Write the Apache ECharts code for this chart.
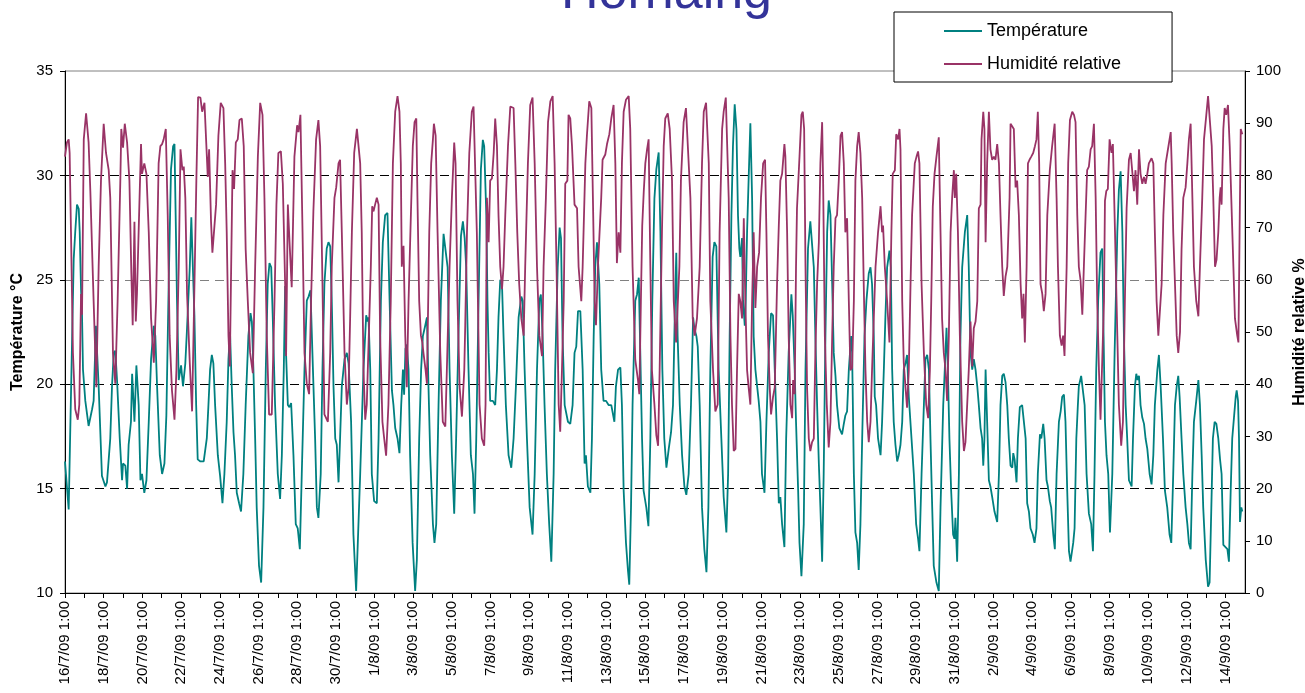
<!DOCTYPE html>
<html>
<head>
<meta charset="utf-8">
<title>Hornaing</title>
<script src="https://cdn.jsdelivr.net/npm/echarts@6/dist/echarts.min.js"></script>
<style>
html, body { margin: 0; padding: 0; background: #fff; }
#main { width: 1305px; height: 693px; }
</style>
</head>
<body>
<div id="main"></div>
<script>
// x = days since 16/7/09 1:00
var startDate = [2009, 6, 16];
var dayCount = 61;
var leftTicks = [10, 35, 5];
var rightTicks = [0, 100, 10];
var seriesNames = ['Température', 'Humidité relative'];

var tempPoints = [
[0.00,16.3],[0.19,14.0],[0.45,26.0],[0.53,27.3],[0.62,28.6],[0.71,28.4],[0.76,27.3],[0.83,24.5],[0.88,23.3],[0.93,20.7],
[1.05,19.2],[1.22,18.0],[1.40,18.8],[1.48,19.2],[1.60,22.8],[1.66,21.5],[1.74,19.9],[1.91,15.6],[2.09,15.1],[2.17,15.3],
[2.34,17.4],[2.43,19.9],[2.52,21.5],[2.60,21.6],[2.69,20.2],[2.83,17.4],[2.95,15.4],[3.00,16.2],[3.12,16.1],[3.21,15.0],
[3.29,17.1],[3.41,18.2],[3.47,20.5],[3.59,18.2],[3.69,20.9],[3.81,19.0],[3.90,15.4],[3.98,15.7],[4.10,14.8],[4.21,15.4],
[4.33,18.2],[4.45,21.2],[4.59,22.8],[4.67,22.3],[4.76,19.9],[4.90,16.6],[5.02,15.7],[5.14,16.2],[5.24,18.5],[5.36,24.8],
[5.48,30.3],[5.59,31.4],[5.66,31.5],[5.72,28.1],[5.79,24.0],[5.88,20.2],[6.00,20.9],[6.10,19.9],[6.22,21.0],[6.31,22.7],
[6.45,25.6],[6.53,28.0],[6.62,25.3],[6.69,23.3],[6.78,19.0],[6.86,16.4],[7.00,16.3],[7.17,16.3],[7.24,16.3],[7.33,17.4],
[7.41,18.9],[7.50,20.7],[7.59,21.4],[7.67,21.0],[7.76,19.0],[7.90,16.6],[8.02,15.6],[8.14,14.3],[8.24,15.7],[8.36,18.2],
[8.45,21.2],[8.53,22.5],[8.62,19.9],[8.71,17.7],[8.79,16.6],[8.88,14.8],[9.00,14.3],[9.10,13.9],[9.22,15.7],[9.34,19.0],
[9.48,22.3],[9.59,23.4],[9.66,23.0],[9.74,20.7],[9.83,17.4],[9.91,14.1],[10.03,11.3],[10.14,10.5],[10.26,14.1],[10.38,20.7],
[10.48,24.8],[10.57,25.8],[10.66,25.6],[10.74,23.2],[10.86,19.0],[11.00,15.7],[11.12,14.5],[11.21,16.6],[11.31,20.7],[11.38,24.7],
[11.43,21.4],[11.52,19.0],[11.60,18.9],[11.69,19.1],[11.81,16.6],[11.93,13.3],[12.03,13.1],[12.14,12.1],[12.24,15.7],[12.38,20.7],
[12.50,24.0],[12.59,24.2],[12.69,24.5],[12.79,21.5],[12.93,17.4],[13.02,14.1],[13.10,13.6],[13.22,15.7],[13.31,20.7],[13.41,24.8],
[13.53,26.5],[13.62,26.8],[13.71,26.6],[13.79,24.0],[13.88,19.9],[13.97,17.4],[14.05,17.1],[14.14,15.3],[14.22,17.4],[14.31,19.9],
[14.45,21.2],[14.57,21.5],[14.66,21.0],[14.79,18.2],[14.91,12.8],[15.05,10.1],[15.26,15.7],[15.43,20.7],[15.57,23.3],[15.64,23.0],
[15.69,23.2],[15.78,20.7],[15.86,15.7],[15.98,14.4],[16.12,14.3],[16.21,17.4],[16.33,24.0],[16.43,26.8],[16.55,28.1],[16.67,28.2],
[16.78,24.0],[16.90,19.7],[16.98,19.0],[17.07,17.9],[17.19,17.4],[17.29,16.7],[17.38,19.0],[17.47,20.7],[17.53,19.5],[17.60,21.7],
[17.67,21.9],[17.76,20.7],[17.84,16.6],[17.97,12.4],[18.10,10.1],[18.19,11.6],[18.31,17.4],[18.41,20.7],[18.50,22.3],[18.62,22.8],
[18.71,23.2],[18.79,19.9],[18.88,16.6],[19.02,13.3],[19.10,12.4],[19.19,13.3],[19.31,19.0],[19.43,24.0],[19.57,27.2],[19.67,27.2],
[19.78,25.6],[19.88,20.7],[20.00,16.6],[20.12,13.8],[20.22,17.4],[20.34,22.3],[20.47,27.1],[20.57,27.8],[20.66,27.0],[20.74,25.6],
[20.86,20.7],[20.98,16.6],[21.09,15.7],[21.17,13.8],[21.26,17.4],[21.38,24.0],[21.50,30.3],[21.60,31.7],[21.67,31.4],[21.78,28.1],
[21.84,24.0],[21.90,21.5],[21.98,19.2],[22.12,19.2],[22.24,19.0],[22.33,20.7],[22.41,23.2],[22.50,25.0],[22.59,24.8],[22.67,22.3],
[22.79,19.0],[22.93,16.6],[23.07,16.0],[23.19,17.4],[23.31,19.9],[23.45,23.2],[23.59,24.2],[23.66,24.0],[23.76,20.7],[23.88,17.4],
[24.02,14.1],[24.17,12.8],[24.28,15.7],[24.40,20.7],[24.52,24.0],[24.60,24.3],[24.69,22.3],[24.79,19.0],[24.91,15.7],[25.03,13.3],
[25.14,11.5],[25.26,15.7],[25.34,20.7],[25.47,25.6],[25.57,27.5],[25.64,27.0],[25.72,22.3],[25.83,19.0],[25.91,19.0],[26.00,18.2],
[26.12,18.1],[26.24,19.0],[26.34,21.5],[26.43,21.8],[26.52,23.5],[26.64,23.5],[26.76,20.7],[26.86,16.2],[26.93,16.6],[27.03,15.1],
[27.16,14.8],[27.24,17.4],[27.33,22.3],[27.41,25.6],[27.50,26.8],[27.62,24.8],[27.72,20.7],[27.84,19.2],[27.97,19.2],[28.10,19.0],
[28.24,19.0],[28.31,19.0],[28.40,18.2],[28.48,19.9],[28.59,20.7],[28.71,20.8],[28.79,19.0],[28.88,14.9],[29.00,12.4],[29.10,11.1],
[29.17,10.4],[29.26,14.1],[29.34,19.0],[29.48,24.0],[29.57,24.3],[29.66,25.1],[29.74,21.5],[29.83,17.4],[29.91,14.9],[30.05,14.1],
[30.16,13.2],[30.26,17.4],[30.36,24.0],[30.47,28.9],[30.57,30.3],[30.69,31.1],[30.78,27.3],[30.88,20.7],[30.98,17.4],[31.09,16.0],
[31.21,16.9],[31.33,17.7],[31.43,19.0],[31.52,23.2],[31.60,26.3],[31.67,22.3],[31.78,19.0],[31.90,16.6],[32.02,15.1],[32.12,14.7],
[32.24,15.7],[32.36,19.0],[32.47,23.2],[32.53,22.7],[32.64,22.3],[32.71,21.8],[32.81,19.0],[32.93,14.1],[33.05,12.1],[33.16,11.0],
[33.26,14.1],[33.36,20.7],[33.48,26.1],[33.57,26.8],[33.67,26.6],[33.79,20.7],[33.93,17.4],[34.05,14.6],[34.19,12.9],[34.28,15.7],
[34.36,22.3],[34.45,28.1],[34.53,31.4],[34.62,33.4],[34.71,32.2],[34.79,28.1],[34.86,26.5],[34.91,26.1],[35.00,27.0],[35.05,24.0],
[35.14,22.8],[35.19,24.0],[35.26,27.3],[35.34,29.8],[35.43,32.5],[35.52,28.9],[35.60,22.3],[35.69,20.7],[35.78,19.9],[35.86,19.2],
[35.95,18.2],[36.03,15.7],[36.16,14.8],[36.26,18.2],[36.38,21.5],[36.50,23.4],[36.60,23.3],[36.69,20.7],[36.81,17.4],[36.90,14.3],
[36.98,14.6],[37.07,13.3],[37.19,12.2],[37.28,17.4],[37.41,21.5],[37.55,24.3],[37.62,23.3],[37.72,20.7],[37.79,18.2],[37.90,14.9],
[37.97,12.4],[38.07,10.8],[38.19,13.3],[38.28,20.7],[38.41,26.5],[38.53,27.8],[38.62,27.8],[38.71,25.6],[38.79,22.3],[38.88,19.0],
[38.97,16.2],[39.05,14.1],[39.14,11.5],[39.22,15.7],[39.31,22.3],[39.40,27.3],[39.48,28.8],[39.57,28.1],[39.66,24.8],[39.74,21.5],
[39.83,20.4],[39.91,19.0],[40.03,17.9],[40.17,17.6],[40.26,18.1],[40.34,18.5],[40.43,18.7],[40.52,20.7],[40.64,22.3],[40.69,21.5],
[40.78,15.7],[40.86,12.9],[40.95,12.4],[41.03,11.1],[41.12,13.3],[41.21,17.4],[41.33,22.3],[41.43,24.0],[41.55,25.3],[41.64,25.6],
[41.72,24.8],[41.81,22.3],[41.86,19.4],[41.93,19.0],[42.03,17.4],[42.16,16.6],[42.24,18.2],[42.33,20.7],[42.41,23.2],[42.50,25.6],
[42.62,26.4],[42.69,25.6],[42.76,20.7],[42.84,18.2],[42.93,17.1],[43.02,16.3],[43.10,16.6],[43.19,17.1],[43.28,18.2],[43.36,20.7],
[43.45,21.0],[43.53,21.4],[43.62,19.4],[43.76,17.4],[43.88,15.7],[44.00,13.3],[44.10,12.6],[44.17,12.0],[44.28,15.7],[44.40,19.0],
[44.48,21.2],[44.57,21.4],[44.66,20.7],[44.74,17.4],[44.83,14.1],[44.91,11.3],[45.05,10.5],[45.17,10.1],[45.26,14.1],[45.40,19.0],
[45.48,20.7],[45.57,22.7],[45.64,20.7],[45.72,17.4],[45.81,14.9],[45.91,12.8],[45.98,12.6],[46.03,13.6],[46.12,11.5],[46.21,15.7],
[46.29,22.3],[46.38,25.6],[46.52,27.3],[46.64,28.1],[46.72,25.6],[46.81,21.5],[46.90,20.7],[46.98,21.2],[47.07,20.7],[47.16,19.9],
[47.24,19.0],[47.33,17.9],[47.41,17.4],[47.47,16.1],[47.53,17.4],[47.59,20.7],[47.67,18.2],[47.76,15.4],[47.84,15.1],[47.93,14.6],
[48.05,13.9],[48.19,13.4],[48.28,15.7],[48.36,19.0],[48.45,20.4],[48.53,20.5],[48.62,20.1],[48.71,19.0],[48.79,17.4],[48.88,16.1],
[48.97,16.0],[49.02,16.7],[49.09,16.4],[49.19,15.3],[49.26,17.4],[49.36,18.9],[49.48,19.0],[49.57,19.0],[49.66,17.4],[49.74,14.3],
[49.83,13.9],[49.91,13.1],[50.03,12.8],[50.12,12.4],[50.22,13.1],[50.29,15.7],[50.40,17.6],[50.47,17.4],[50.57,18.1],[50.64,17.4],
[50.74,15.4],[50.81,15.1],[50.91,14.4],[50.98,14.1],[51.09,12.8],[51.17,12.1],[51.26,15.7],[51.38,18.2],[51.47,18.7],[51.55,19.4],
[51.64,19.5],[51.72,18.2],[51.81,14.9],[51.90,12.0],[51.98,11.5],[52.12,12.4],[52.19,13.1],[52.28,17.4],[52.36,19.0],[52.41,19.9],
[52.53,20.4],[52.62,20.4],[52.71,19.0],[52.81,15.7],[52.93,13.8],[53.05,13.3],[53.14,12.0],[53.22,15.7],[53.31,20.7],[53.41,24.0],
[53.53,26.3],[53.62,26.5],[53.69,22.3],[53.76,18.2],[53.84,16.6],[53.93,15.7],[54.02,12.9],[54.14,15.7],[54.26,21.5],[54.40,27.3],
[54.48,29.3],[54.57,30.2],[54.66,27.3],[54.74,22.3],[54.83,19.0],[54.91,17.4],[55.00,15.4],[55.14,15.1],[55.21,17.4],[55.31,19.9],
[55.38,20.5],[55.45,20.2],[55.52,20.4],[55.60,19.0],[55.69,18.4],[55.78,18.1],[55.86,17.4],[55.95,16.9],[56.07,15.7],[56.17,15.2],
[56.26,16.6],[56.34,19.0],[56.47,20.7],[56.55,21.4],[56.64,19.9],[56.76,17.4],[56.86,14.9],[56.98,14.1],[57.10,12.8],[57.19,12.4],
[57.29,15.7],[57.38,19.0],[57.47,19.9],[57.55,20.4],[57.62,19.4],[57.72,17.4],[57.81,15.7],[57.93,14.1],[58.02,13.3],[58.10,12.4],
[58.19,12.1],[58.28,15.7],[58.36,18.2],[58.48,19.2],[58.59,20.2],[58.67,19.0],[58.76,16.6],[58.84,14.1],[58.97,11.6],[59.09,10.3],
[59.17,10.5],[59.26,14.1],[59.34,17.4],[59.43,18.2],[59.52,18.1],[59.62,17.4],[59.71,16.4],[59.79,15.7],[59.88,12.3],[59.97,12.3],
[60.09,12.1],[60.17,11.5],[60.26,14.9],[60.34,17.4],[60.43,18.4],[60.52,19.4],[60.57,19.7],[60.64,19.2],[60.69,17.4],[60.74,13.4],
[60.81,14.1],[60.86,13.9]
];

var humPoints = [
[0.00,83.6],[0.10,86.3],[0.19,86.9],[0.24,84.3],[0.31,69.1],[0.41,46.0],[0.53,35.2],[0.66,33.2],[0.74,36.1],[0.83,57.3],
[0.88,53.3],[0.97,86.9],[1.09,91.9],[1.22,86.3],[1.31,77.0],[1.48,55.9],[1.62,39.4],[1.74,62.5],[1.86,79.0],[2.00,89.9],
[2.12,84.3],[2.26,81.0],[2.34,75.7],[2.48,46.0],[2.60,40.1],[2.72,55.9],[2.86,79.0],[2.91,88.9],[3.00,85.3],[3.09,89.9],
[3.21,86.3],[3.33,79.0],[3.43,61.2],[3.50,51.3],[3.59,71.1],[3.66,52.0],[3.72,57.3],[3.83,72.4],[3.93,86.0],[3.98,80.3],
[4.10,82.3],[4.21,80.3],[4.33,69.1],[4.45,52.6],[4.59,44.1],[4.71,55.9],[4.84,82.3],[4.93,85.6],[5.02,86.0],[5.10,86.9],
[5.21,88.9],[5.31,72.4],[5.41,49.3],[5.53,38.8],[5.66,33.2],[5.76,42.7],[5.88,62.5],[5.97,85.0],[6.07,81.0],[6.14,81.7],
[6.22,75.7],[6.31,57.3],[6.45,44.1],[6.57,34.8],[6.66,52.6],[6.79,79.0],[6.88,95.0],[7.00,94.9],[7.09,92.2],[7.21,93.9],
[7.28,94.2],[7.38,79.7],[7.45,85.0],[7.55,71.1],[7.62,65.2],[7.72,65.5],[7.81,74.4],[7.93,87.6],[8.05,93.9],[8.19,92.9],
[8.28,82.3],[8.36,69.1],[8.45,49.3],[8.52,43.4],[8.59,62.5],[8.66,81.0],[8.74,77.4],[8.83,86.3],[8.93,86.9],[9.02,90.6],
[9.14,90.9],[9.24,85.6],[9.34,65.8],[9.45,55.9],[9.57,46.0],[9.71,42.1],[9.83,62.5],[9.97,83.6],[10.09,93.9],[10.21,91.6],
[10.31,75.7],[10.43,49.3],[10.55,34.2],[10.69,34.2],[10.83,55.9],[10.93,74.4],[11.03,84.3],[11.16,84.6],[11.26,78.4],[11.38,59.2],
[11.43,45.4],[11.52,74.4],[11.60,67.8],[11.72,58.6],[11.86,83.6],[12.00,89.6],[12.07,88.3],[12.17,91.6],[12.28,69.1],[12.38,46.0],
[12.50,40.1],[12.62,38.1],[12.72,55.9],[12.84,73.1],[12.98,86.9],[13.10,90.6],[13.19,85.6],[13.31,59.2],[13.41,34.2],[13.59,32.8],
[13.71,46.0],[13.79,62.5],[13.93,75.7],[14.02,77.7],[14.14,82.3],[14.22,83.0],[14.31,69.1],[14.45,46.0],[14.57,36.1],[14.66,39.4],
[14.74,52.6],[14.83,69.1],[14.95,84.3],[15.09,88.9],[15.17,88.9],[15.26,82.3],[15.34,69.1],[15.43,42.7],[15.52,33.2],[15.60,36.1],
[15.69,36.1],[15.81,62.5],[15.88,74.1],[15.95,73.1],[16.03,74.4],[16.12,75.7],[16.21,74.4],[16.29,49.3],[16.41,32.8],[16.50,29.6],
[16.60,26.3],[16.72,36.1],[16.84,55.9],[16.95,82.3],[17.07,92.2],[17.19,95.2],[17.29,92.2],[17.36,82.3],[17.41,62.5],[17.50,66.5],
[17.59,49.3],[17.67,39.4],[17.76,55.9],[17.88,72.4],[17.98,85.6],[18.07,90.2],[18.16,90.9],[18.22,75.7],[18.31,55.9],[18.40,49.3],
[18.47,48.0],[18.53,46.0],[18.64,42.7],[18.71,40.1],[18.83,69.1],[18.93,82.3],[19.02,86.9],[19.07,89.9],[19.16,87.6],[19.26,69.1],
[19.40,46.0],[19.53,32.8],[19.66,31.9],[19.74,42.7],[19.88,62.5],[20.00,75.7],[20.12,86.3],[20.19,82.3],[20.29,55.9],[20.40,39.4],
[20.52,33.8],[20.64,42.7],[20.69,51.3],[20.78,69.1],[20.90,84.3],[21.03,92.2],[21.12,93.2],[21.21,92.9],[21.29,69.1],[21.43,36.1],
[21.55,29.6],[21.67,28.2],[21.74,36.1],[21.81,75.7],[21.90,67.2],[21.98,79.0],[22.07,79.4],[22.16,84.3],[22.24,90.9],[22.33,85.6],
[22.41,72.4],[22.50,62.5],[22.59,58.2],[22.67,62.5],[22.76,72.4],[22.90,85.6],[23.02,93.2],[23.19,92.9],[23.28,82.3],[23.38,69.1],
[23.48,59.2],[23.59,52.6],[23.71,49.3],[23.79,62.5],[23.93,82.3],[24.05,93.5],[24.17,94.9],[24.28,82.3],[24.40,62.5],[24.52,49.3],
[24.66,45.4],[24.74,62.5],[24.86,75.7],[24.97,90.2],[25.09,94.2],[25.21,95.2],[25.31,82.3],[25.41,62.5],[25.52,36.1],[25.60,30.9],
[25.69,42.7],[25.78,55.9],[25.86,78.4],[25.97,79.0],[26.03,91.6],[26.12,90.9],[26.21,85.6],[26.34,74.4],[26.47,73.7],[26.55,62.5],
[26.69,55.9],[26.76,62.5],[26.90,82.3],[26.98,87.6],[27.10,94.2],[27.21,92.9],[27.29,75.7],[27.38,55.9],[27.45,51.3],[27.55,62.5],
[27.72,75.7],[27.79,83.0],[27.93,84.0],[28.02,86.0],[28.14,87.9],[28.24,90.9],[28.36,93.5],[28.45,82.3],[28.53,63.2],[28.62,69.1],
[28.71,65.2],[28.79,82.3],[28.88,92.2],[29.00,94.5],[29.14,95.2],[29.22,88.9],[29.34,62.5],[29.48,44.7],[29.62,40.8],[29.69,38.1],
[29.77,55.9],[29.84,70.4],[29.92,77.0],[30.00,82.3],[30.09,85.0],[30.17,86.9],[30.26,62.5],[30.34,42.7],[30.47,36.1],[30.57,30.2],
[30.66,28.2],[30.74,42.7],[30.86,69.1],[30.95,85.6],[31.03,90.9],[31.16,91.9],[31.26,88.9],[31.38,79.0],[31.47,55.9],[31.59,48.0],
[31.67,48.0],[31.76,62.5],[31.84,79.0],[31.98,90.2],[32.10,92.9],[32.19,92.9],[32.33,75.7],[32.45,52.6],[32.55,49.3],[32.67,52.6],
[32.81,62.5],[32.93,82.3],[33.02,92.2],[33.14,93.9],[33.19,93.9],[33.28,82.3],[33.36,55.9],[33.50,42.7],[33.62,34.8],[33.74,36.1],
[33.84,69.1],[33.97,88.9],[34.05,92.2],[34.16,94.9],[34.22,95.2],[34.31,75.7],[34.40,49.3],[34.48,36.1],[34.57,27.2],[34.66,27.6],
[34.74,42.7],[34.83,57.3],[34.91,55.9],[35.00,52.6],[35.09,71.8],[35.17,55.9],[35.26,42.7],[35.34,39.4],[35.43,36.1],[35.52,55.9],
[35.60,69.1],[35.69,54.6],[35.78,62.5],[35.88,65.2],[35.98,75.7],[36.09,82.3],[36.19,83.0],[36.26,69.1],[36.34,49.3],[36.43,39.4],
[36.50,34.2],[36.60,37.5],[36.69,39.4],[36.81,59.2],[36.90,70.4],[36.98,79.0],[37.07,80.3],[37.19,86.0],[37.24,83.6],[37.33,69.1],
[37.41,49.3],[37.50,36.1],[37.59,33.5],[37.64,40.8],[37.72,38.1],[37.79,62.5],[37.84,73.7],[37.90,73.7],[37.97,83.6],[38.07,91.6],
[38.14,92.2],[38.21,88.9],[38.28,62.5],[38.36,39.4],[38.45,29.6],[38.53,27.2],[38.62,28.9],[38.71,29.6],[38.79,46.0],[38.88,59.2],
[38.97,67.2],[39.05,82.3],[39.14,90.2],[39.19,79.0],[39.28,49.3],[39.38,36.1],[39.48,27.9],[39.57,32.8],[39.66,49.3],[39.74,62.5],
[39.83,71.8],[39.91,72.4],[40.00,79.0],[40.09,87.6],[40.17,88.3],[40.26,82.3],[40.34,69.1],[40.43,71.8],[40.52,55.9],[40.60,42.7],
[40.69,43.1],[40.78,55.9],[40.86,79.0],[40.95,85.6],[41.03,88.3],[41.12,84.3],[41.21,75.7],[41.29,59.2],[41.38,42.7],[41.47,32.8],
[41.55,28.9],[41.64,32.8],[41.72,42.7],[41.81,52.6],[41.90,62.5],[42.03,69.1],[42.16,74.1],[42.24,69.1],[42.29,70.4],[42.38,62.5],
[42.50,55.9],[42.62,48.0],[42.72,69.1],[42.79,80.3],[42.90,81.0],[42.97,87.9],[43.07,86.9],[43.14,88.9],[43.19,85.0],[43.28,55.9],
[43.36,44.1],[43.45,39.4],[43.53,35.5],[43.62,42.7],[43.71,59.2],[43.79,72.4],[43.93,82.3],[44.02,83.6],[44.10,84.6],[44.17,82.3],
[44.28,59.2],[44.40,46.0],[44.52,36.1],[44.62,33.5],[44.71,42.7],[44.78,55.9],[44.86,74.0],[44.95,80.3],[45.05,83.6],[45.17,87.3],
[45.26,69.1],[45.34,52.6],[45.43,46.0],[45.52,42.7],[45.60,36.8],[45.69,49.3],[45.78,69.1],[45.86,75.7],[45.95,81.0],[46.00,75.7],
[46.07,80.3],[46.16,69.1],[46.26,49.3],[46.38,32.8],[46.47,27.2],[46.55,28.9],[46.64,28.9],[46.72,42.7],[46.81,52.0],[46.90,43.4],
[46.98,50.7],[47.07,52.0],[47.16,55.9],[47.24,73.7],[47.33,74.4],[47.38,86.9],[47.47,92.2],[47.53,88.9],[47.59,67.2],[47.67,82.3],
[47.76,92.2],[47.84,85.0],[47.93,83.0],[48.02,83.6],[48.10,83.0],[48.19,86.0],[48.28,82.3],[48.36,72.4],[48.45,62.5],[48.53,56.9],
[48.62,60.6],[48.71,62.5],[48.83,75.7],[48.88,89.9],[48.97,89.9],[49.05,88.9],[49.14,77.7],[49.22,79.0],[49.31,72.4],[49.40,59.2],
[49.48,52.6],[49.55,57.3],[49.62,48.0],[49.71,62.5],[49.78,82.3],[49.86,83.0],[49.95,83.6],[50.05,84.3],[50.14,85.6],[50.22,86.9],
[50.29,92.2],[50.36,82.3],[50.43,59.2],[50.52,57.3],[50.60,54.0],[50.69,57.3],[50.78,72.4],[50.91,81.0],[51.03,85.6],[51.16,89.9],
[51.26,75.7],[51.33,62.5],[51.43,49.3],[51.52,47.4],[51.60,49.3],[51.67,45.4],[51.78,62.5],[51.86,82.3],[51.95,90.6],[52.07,92.2],
[52.16,91.6],[52.24,90.2],[52.33,72.4],[52.41,62.5],[52.50,59.9],[52.59,53.3],[52.67,62.5],[52.76,72.4],[52.84,81.0],[52.93,81.7],
[53.02,85.0],[53.10,85.6],[53.19,89.9],[53.28,75.7],[53.36,55.9],[53.45,42.7],[53.53,33.2],[53.62,33.2],[53.71,55.9],[53.76,75.1],
[53.83,77.0],[53.91,77.4],[54.00,86.9],[54.05,86.9],[54.10,84.3],[54.17,86.0],[54.28,69.1],[54.40,49.3],[54.48,36.1],[54.60,28.2],
[54.69,32.8],[54.79,55.9],[54.88,73.7],[55.00,83.0],[55.09,84.3],[55.17,84.0],[55.26,77.0],[55.34,81.0],[55.43,74.4],[55.52,85.0],
[55.60,80.3],[55.69,78.4],[55.78,79.7],[55.86,78.4],[55.95,80.3],[56.03,82.3],[56.17,83.3],[56.26,82.3],[56.34,69.1],[56.43,55.9],
[56.52,49.3],[56.60,49.3],[56.69,59.2],[56.78,72.4],[56.90,82.3],[57.03,85.3],[57.16,88.3],[57.21,82.3],[57.29,69.1],[57.38,59.2],
[57.47,49.3],[57.55,46.0],[57.64,50.0],[57.72,65.8],[57.81,75.7],[57.93,77.7],[58.02,82.3],[58.10,86.9],[58.19,89.9],[58.28,75.7],
[58.36,62.5],[58.48,55.9],[58.59,53.0],[58.67,62.5],[58.79,75.7],[58.88,86.9],[59.00,91.6],[59.09,95.2],[59.19,94.9],[59.28,85.6],
[59.36,75.7],[59.45,62.5],[59.53,63.9],[59.62,69.1],[59.69,75.7],[59.74,77.7],[59.79,74.4],[59.88,88.9],[59.95,92.9],[60.03,91.6],
[60.12,93.5],[60.21,85.6],[60.29,75.7],[60.40,62.5],[60.48,52.6],[60.60,49.3],[60.66,48.0],[60.72,69.1],[60.78,88.9],[60.86,87.9]
];

var dayLabel = function(v){
	var d = Math.round(v);
	if (d % 2 !== 0) return '';
	var dt = new Date(startDate[0], startDate[1], startDate[2] + d);
	return dt.getDate() + '/' + (dt.getMonth() + 1) + '/09 1:00';
};

var chart = echarts.init(document.getElementById('main'));
var font = 'Liberation Sans, Arial, sans-serif';

chart.setOption({
	backgroundColor: '#fff',
	animation: false,
	textStyle: { fontFamily: font, color: '#000' },
	title: {
		text: 'Hornaing',
		left: 556,
		top: -37,
		textStyle: { color: '#333399', fontSize: 52, fontWeight: 'normal', fontFamily: font }
	},
	legend: {
		orient: 'vertical',
		left: 894,
		top: 12,
		backgroundColor: '#fff',
		borderColor: '#000',
		borderWidth: 1,
		borderRadius: 0,
		padding: [10, 51, 9, 50],
		itemWidth: 38,
		itemHeight: 2,
		itemGap: 15,
		icon: 'rect',
		textStyle: { fontSize: 18, lineHeight: 18, color: '#000', fontFamily: font },
		data: seriesNames
	},
	grid: {
		left: 65, right: 60, top: 71, bottom: 100,
		outerBoundsMode: 'none',
		containLabel: false,
		show: true, borderColor: '#808080', borderWidth: 1
	},
	xAxis: {
		type: 'value',
		min: 0, max: dayCount, interval: 1,
		axisLine: { lineStyle: { color: '#000', width: 1 } },
		axisTick: { length: 5, lineStyle: { color: '#000' } },
		axisLabel: { rotate: 90, margin: 8, fontSize: 15, color: '#000', formatter: dayLabel, showMaxLabel: false },
		splitLine: { show: false }
	},
	yAxis: [{
		type: 'value',
		min: leftTicks[0], max: leftTicks[1], interval: leftTicks[2],
		name: 'Température °C',
		nameLocation: 'middle',
		nameRotate: 90,
		nameGap: 36,
		nameTextStyle: { fontSize: 16, fontWeight: 'bold', color: '#000' },
		axisLine: { show: true, lineStyle: { color: '#000' } },
		axisTick: { show: true, length: 5, lineStyle: { color: '#000' } },
		axisLabel: { fontSize: 15, margin: 12, color: '#000' },
		splitLine: { show: true, lineStyle: { type: [9, 6], width: 1,
			color: ['rgba(0,0,0,0)', '#000', '#000', '#808080', '#000', 'rgba(0,0,0,0)'] } }
	}, {
		type: 'value',
		position: 'right',
		min: rightTicks[0], max: rightTicks[1], interval: rightTicks[2],
		name: 'Humidité relative %',
		nameLocation: 'middle',
		nameRotate: 90,
		nameGap: 44,
		nameTextStyle: { fontSize: 16, fontWeight: 'bold', color: '#000' },
		axisLine: { show: true, lineStyle: { color: '#000' } },
		axisTick: { show: true, length: 5, lineStyle: { color: '#000' } },
		axisLabel: { fontSize: 15, margin: 11, color: '#000' },
		splitLine: { show: false }
	}],
	series: [{
		name: seriesNames[0],
		type: 'line',
		yAxisIndex: 0,
		data: tempPoints,
		showSymbol: false,
		color: '#008080',
		lineStyle: { color: '#008080', width: 1.8 }
	}, {
		name: seriesNames[1],
		type: 'line',
		yAxisIndex: 1,
		data: humPoints,
		showSymbol: false,
		color: '#993366',
		lineStyle: { color: '#993366', width: 1.8 }
	}]
});
</script>
</body>
</html>
